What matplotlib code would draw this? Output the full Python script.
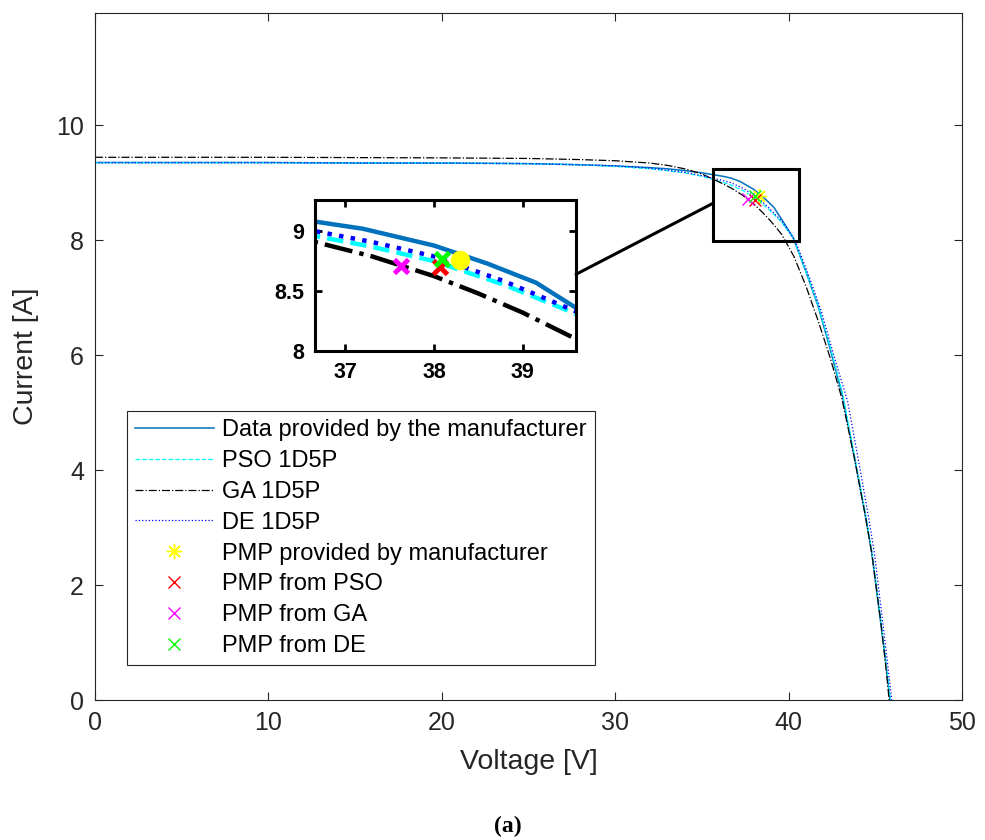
import matplotlib
matplotlib.use("Agg")
import matplotlib.pyplot as plt
from matplotlib.patches import Rectangle, ConnectionPatch

plt.rcParams['font.family'] = ['Liberation Sans', 'DejaVu Sans']

# ---- data ----
V_man = [0, 5, 10, 15, 20, 25, 28, 30, 32, 33, 34, 35, 35.6, 36.2, 36.66, 37.2, 38.0, 38.6, 39.15, 39.6,
         40.25, 41.0, 41.7, 42.4, 43.1, 43.9, 44.4, 44.8, 45.33, 45.6, 45.85]
I_man = [9.35, 9.35, 9.35, 9.34, 9.34, 9.33, 9.31, 9.29, 9.26, 9.24, 9.21, 9.17, 9.14, 9.11, 9.08, 9.02, 8.88, 8.73, 8.57, 8.36,
         8.05, 7.45, 6.85, 6.1, 5.3, 4.05, 3.25, 2.55, 1.3, 0.65, 0.0]

V_pso = [0, 10, 20, 25, 28, 30, 32, 34, 35, 36, 36.66, 37.3, 38.0, 38.8, 39.6, 40.3, 41.0, 41.7, 42.4, 43.1,
         43.9, 44.4, 44.8, 45.33, 45.6, 45.87]
I_pso = [9.345, 9.345, 9.34, 9.33, 9.31, 9.28, 9.24, 9.17, 9.11, 9.02, 8.96, 8.87, 8.75, 8.55, 8.31, 8.02, 7.45, 6.87, 6.14, 5.35,
         4.1, 3.3, 2.6, 1.35, 0.68, 0.0]

V_ga = [0, 10, 20, 25, 28, 30, 32, 33, 34, 35, 36, 36.66, 37.3, 38.0, 38.5, 39.0, 39.6, 40.3, 41.0, 41.7,
        42.4, 43.07, 43.8, 44.4, 44.8, 45.3, 45.55, 45.8]
I_ga = [9.44, 9.44, 9.43, 9.42, 9.40, 9.38, 9.34, 9.30, 9.24, 9.15, 9.01, 8.91, 8.79, 8.625, 8.48, 8.32, 8.10, 7.72, 7.2, 6.6,
        5.95, 5.25, 4.2, 3.25, 2.55, 1.4, 0.75, 0.0]

V_de = [0, 10, 20, 25, 28, 30, 32, 34, 35, 36, 36.66, 37.3, 38.0, 38.8, 39.6, 40.4, 41.2, 41.9, 42.6, 43.4,
        44.1, 44.6, 44.95, 45.45, 45.7, 45.95]
I_de = [9.345, 9.345, 9.34, 9.33, 9.31, 9.29, 9.25, 9.18, 9.12, 9.05, 9.00, 8.91, 8.79, 8.58, 8.33, 7.98, 7.35, 6.75, 6.0, 5.2,
        4.05, 3.2, 2.55, 1.3, 0.65, 0.0]

pmp_labels = ["PMP provided by manufacturer", "PMP from PSO", "PMP from GA", "PMP from DE"]
pmp_V = [38.29, 38.07, 37.63, 38.09]
pmp_I = [8.76, 8.70, 8.71, 8.77]
pmp_colors = ['#FFFF00', '#FF0000', '#FF00FF', '#00FF00']
pmp_markers = [(8, 2, 0), 'x', 'x', 'x']

curve_labels = ["Data provided by the manufacturer", "PSO 1D5P", "GA 1D5P", "DE 1D5P"]
curve_colors = ['#0072BD', '#00FFFF', '#000000', '#0000FF']
curve_styles = ['-', '--', '-.', ':']
curves = [(V_man, I_man), (V_pso, I_pso), (V_ga, I_ga), (V_de, I_de)]

xticks = [0, 10, 20, 30, 40, 50]
yticks = [0, 2, 4, 6, 8, 10]
inset_xticks = [37, 38, 39]
inset_yticks = [8, 8.5, 9]

# ---- figure ----
W, H = 985, 840
fig = plt.figure(figsize=(W / 100, H / 100), dpi=100)
ax = fig.add_axes([95 / W, 1 - 700 / H, (962 - 95) / W, (700 - 13) / H])

gray = '#262626'
for (V, I), c, ls, lab in zip(curves, curve_colors, curve_styles, curve_labels):
    ax.plot(V, I, color=c, ls=ls, lw=1.1 if ls == '-' else 0.9, label=lab)
for v, i, c, m, lab in zip(pmp_V, pmp_I, pmp_colors, pmp_markers, pmp_labels):
    star = not isinstance(m, str)
    ax.plot([v], [i], ls='none', marker=m, color=c, ms=11 if star else 8, mew=1.0, label=lab)

ax.set_xlim(0, 50)
ax.set_ylim(0, 11.95)
ax.set_xticks(xticks)
ax.set_yticks(yticks)
ax.tick_params(direction='in', top=True, right=True, length=6, width=0.8, colors=gray,
               labelsize=18, pad=8)
for s in ax.spines.values():
    s.set_color(gray)
    s.set_linewidth(0.8)
ax.set_xlabel("Voltage [V]", fontsize=20.5, color=gray, labelpad=10)
ax.set_ylabel("Current [A]", fontsize=20.5, color=gray, labelpad=12)

leg = ax.legend(loc='lower left', bbox_to_anchor=(0.037, 0.051), fontsize=17, frameon=True,
                fancybox=False, edgecolor=gray, framealpha=1, handlelength=3.35,
                handletextpad=0.35, labelspacing=0.375, borderpad=0.33, borderaxespad=0)
leg.get_frame().set_linewidth(0.8)

# zoom rectangle
ax.add_patch(Rectangle((35.64, 7.98), 40.6 - 35.64, 9.23 - 7.98, fill=False, ec='black', lw=2.2, zorder=5))

# ---- inset ----
axi = fig.add_axes([315 / W, 1 - 351 / H, (576 - 315) / W, (351 - 200) / H])
for (V, I), c, ls in zip(curves, curve_colors, curve_styles):
    axi.plot(V, I, color=c, ls=ls, lw=3.2)
for v, i, c, m in zip(pmp_V, pmp_I, pmp_colors, pmp_markers):
    if not isinstance(m, str):
        axi.plot([v], [i], ls='none', marker='o', color=c, ms=13)
    else:
        axi.plot([v], [i], ls='none', marker=m, color=c, ms=10, mew=3.5)
axi.set_xlim(36.66, 39.6)
axi.set_ylim(8, 9.26)
axi.set_xticks(inset_xticks)
axi.set_yticks(inset_yticks)
axi.set_yticklabels(['8', '8.5', '9'])
axi.tick_params(direction='in', top=True, right=True, length=5, width=2, labelsize=15.5, pad=8)
for lab in axi.get_xticklabels() + axi.get_yticklabels():
    lab.set_fontweight('bold')
for s in axi.spines.values():
    s.set_linewidth(2.2)

con = ConnectionPatch(xyA=(39.6, 8.64), coordsA=axi.transData,
                      xyB=(35.64, 8.64), coordsB=ax.transData, color='black', lw=2.2)
fig.add_artist(con)

fig.text(508 / W, 1 - 826 / H, "(a)", ha='center', va='center', fontsize=17,
         fontweight='bold', family=['Liberation Serif', 'DejaVu Serif'])

fig.savefig("out.png", dpi=100)
